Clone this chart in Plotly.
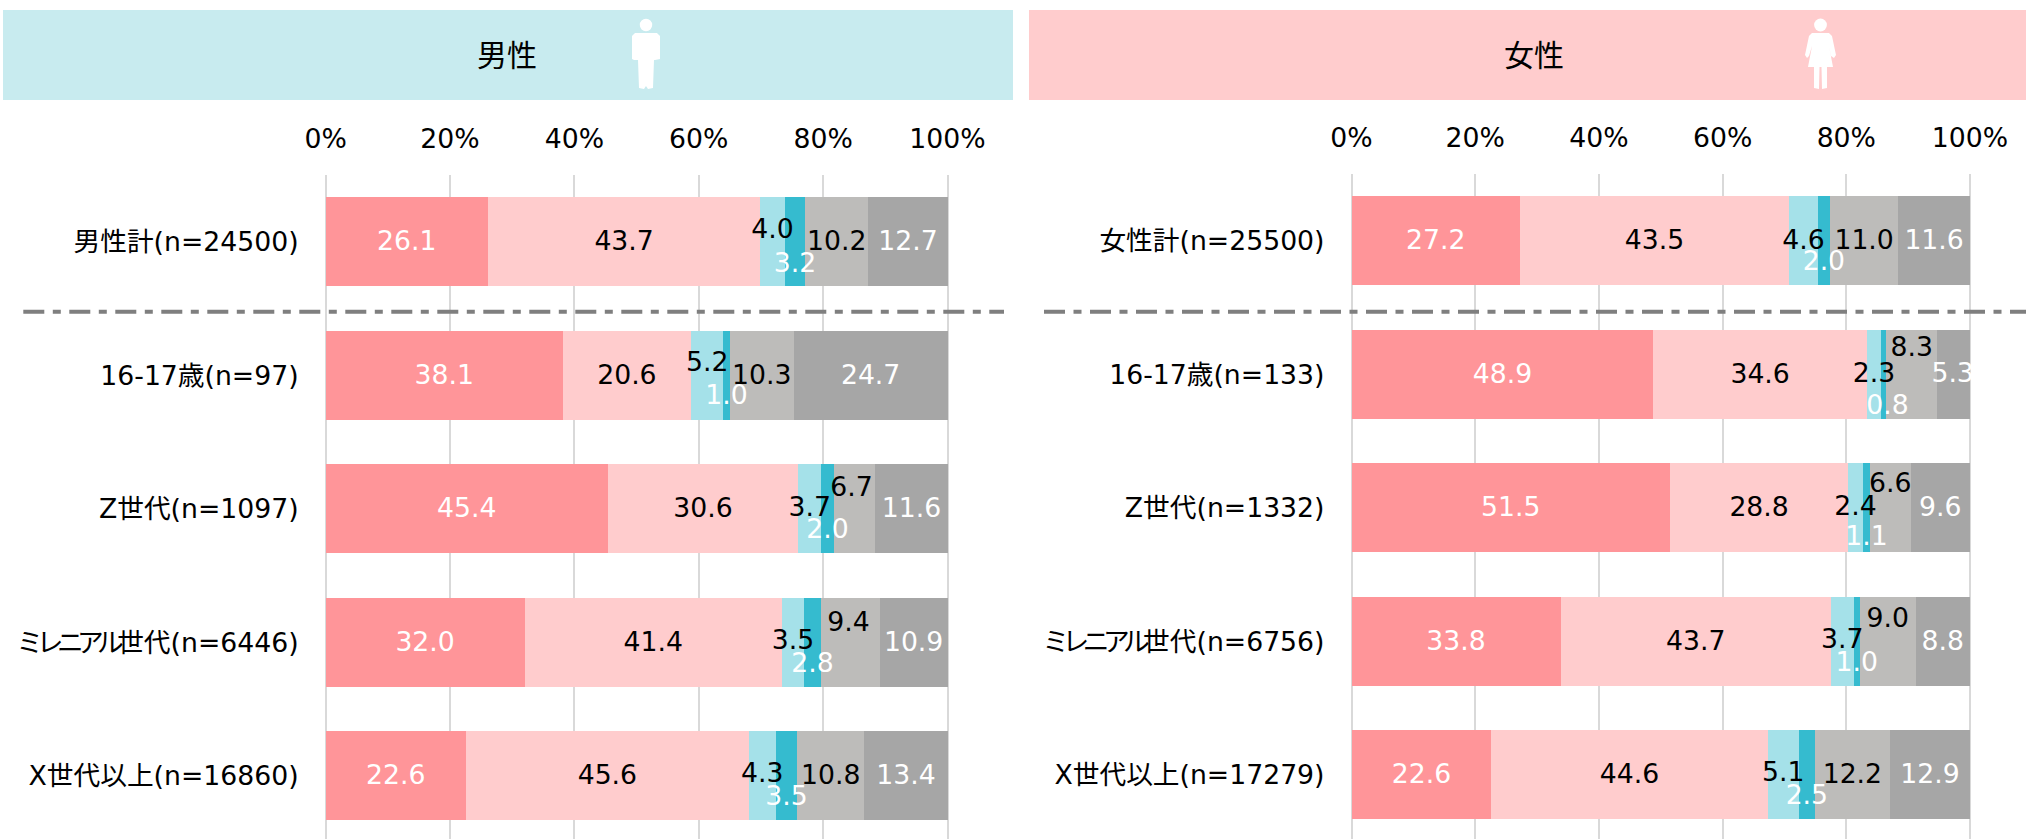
import plotly.graph_objects as go

W, H = 2026, 839
FONT = "DejaVu Sans, Noto Sans CJK JP, sans-serif"
TEXT_SIZE = 26.7

KANA = '<span style="letter-spacing:-6.5px">ミレニアル</span>'
male_categories = ["男性計(n=24500)", "16-17歳(n=97)", "Z世代(n=1097)", KANA + "世代(n=6446)", "X世代以上(n=16860)"]
female_categories = ["女性計(n=25500)", "16-17歳(n=133)", "Z世代(n=1332)", KANA + "世代(n=6756)", "X世代以上(n=17279)"]

male_s1 = [26.1, 38.1, 45.4, 32.0, 22.6]
male_s2 = [43.7, 20.6, 30.6, 41.4, 45.6]
male_s3 = [4.0, 5.2, 3.7, 3.5, 4.3]
male_s4 = [3.2, 1.0, 2.0, 2.8, 3.5]
male_s5 = [10.2, 10.3, 6.7, 9.4, 10.8]
male_s6 = [12.7, 24.7, 11.6, 10.9, 13.4]

female_s1 = [27.2, 48.9, 51.5, 33.8, 22.6]
female_s2 = [43.5, 34.6, 28.8, 43.7, 44.6]
female_s3 = [4.6, 2.3, 2.4, 3.7, 5.1]
female_s4 = [2.0, 0.8, 1.1, 1.0, 2.5]
female_s5 = [11.0, 8.3, 6.6, 9.0, 12.2]
female_s6 = [11.6, 5.3, 9.6, 8.8, 12.9]

tick_values = [0, 20, 40, 60, 80, 100]
tick_labels = ["0%", "20%", "40%", "60%", "80%", "100%"]

# styling: one entry per series
colors = ["#ff9599", "#ffcccd", "#a5e1e9", "#35bbcf", "#bdbcba", "#a6a6a6"]
label_colors = ["white", "black", "black", "white", "black", "white"]

# label nudges in pixels (rows x series), to keep tiny segments legible
male_dy = [[2, 2, -10, 24, 2, 2], [2, 2, -11, 22, 2, 2], [2, 2, 1, 23, -19, 2], [2, 2, 0, 23, -18, 2], [2, 2, 0, 23, 2, 2]]
male_dx = [[0] * 6, [0] * 6, [0, 0, 0, 0, -3, 0], [0, 0, 0, 0, -2, 0], [0] * 6]
female_dy = [[2, 2, 2, 23, 2, 2], [2, 2, 1, 33, -25, 1], [2, 2, 1, 31, -22, 2], [2, 2, 0, 23, -21, 2], [2, 2, 0, 23, 2, 2]]
female_dx = [[0] * 6, [0, 0, 0, 4, 0, -1], [0] * 6, [0] * 6, [0] * 6]

ROW_PX = 133.5
EDGE_PX = 2  # room past 0% and 100% so that the end gridlines are drawn
PANELS = [
    dict(cats=male_categories, series=[male_s1, male_s2, male_s3, male_s4, male_s5, male_s6],
         dx=male_dx, dy=male_dy, x0=325.6, x1=947.5, top=175, xa="x", ya="y"),
    dict(cats=female_categories, series=[female_s1, female_s2, female_s3, female_s4, female_s5, female_s6],
         dx=female_dx, dy=female_dy, x0=1351.5, x1=1970, top=174, xa="x2", ya="y2"),
]


def px(x):
    return x / W


def py(y):
    return 1 - y / H


def path(points):
    return "M" + " L".join(f"{px(a):.5f},{py(b):.5f}" for a, b in points) + " Z"


def circle(cx, cy, r):
    return dict(type="circle", xref="paper", yref="paper", x0=px(cx - r), x1=px(cx + r), y0=py(cy + r), y1=py(cy - r),
                fillcolor="white", line_width=0, layer="above")


fig = go.Figure()
for p in PANELS:
    rows = list(range(len(p["cats"])))
    for s, vals in enumerate(p["series"]):
        fig.add_trace(go.Bar(y=rows, x=vals, orientation="h", width=0.665, marker=dict(color=colors[s], line_width=0),
                             xaxis=p["xa"], yaxis=p["ya"], showlegend=False, hoverinfo="skip"))
    px_per_unit = (p["x1"] - p["x0"]) / 100
    for s, vals in enumerate(p["series"]):
        xs, ys = [], []
        for r in rows:
            total = sum(col[r] for col in p["series"])
            left = sum(col[r] for col in p["series"][:s])
            xs.append((left + vals[r] / 2) * 100 / total + p["dx"][r][s] / px_per_unit)
            ys.append(r + p["dy"][r][s] / ROW_PX)
        fig.add_trace(go.Scatter(x=xs, y=ys, mode="text", text=[f"{v:.1f}" for v in vals], textposition="middle center",
                                 textfont=dict(family=FONT, size=TEXT_SIZE, color=label_colors[s]), cliponaxis=True,
                                 xaxis=p["xa"], yaxis=p["ya"], showlegend=False, hoverinfo="skip"))

DASH = "21px,8.5px,8px,8.5px"
shapes = [
    dict(type="rect", xref="paper", yref="paper", x0=px(3), x1=px(1013), y0=py(100), y1=py(10), fillcolor="#c8ebef", line_width=0, layer="below"),
    dict(type="rect", xref="paper", yref="paper", x0=px(1029), x1=px(2026), y0=py(100), y1=py(10), fillcolor="#ffcccd", line_width=0, layer="below"),
    dict(type="line", xref="paper", yref="paper", x0=px(23.3), x1=px(1004), y0=py(311.7), y1=py(311.7), line=dict(color="#7f7f7f", width=4, dash=DASH)),
    dict(type="line", xref="paper", yref="paper", x0=px(1044), x1=px(2026), y0=py(311.7), y1=py(311.7), line=dict(color="#7f7f7f", width=4, dash=DASH)),
    # man pictogram
    circle(646, 25, 6.2),
    dict(type="path", xref="paper", yref="paper", fillcolor="white", line_width=0, layer="above",
         path=path([(635, 33), (657, 33), (660, 36), (660, 59), (655, 60), (654, 60), (653, 88), (648, 89), (646, 86), (644, 89), (639, 88), (638, 60), (634, 60), (632, 59), (632, 36)])),
    # woman pictogram
    circle(1820.5, 25, 6.4),
    dict(type="path", xref="paper", yref="paper", fillcolor="white", line_width=0, layer="above",
         path=path([(1812, 33), (1829, 33), (1832, 36), (1836, 55), (1834, 58), (1831, 56), (1829, 46), (1833, 67), (1827, 67), (1827, 88), (1822, 89), (1821.5, 67), (1819.5, 67), (1819, 89), (1814, 88), (1814, 67), (1808, 67), (1812, 46), (1809, 56), (1807, 58), (1805, 55), (1809, 36)])),
]

annotations = [
    dict(text="男性", xref="paper", yref="paper", x=px(507), y=py(56), showarrow=False,
         font=dict(family=FONT, size=30, color="black"), xanchor="center", yanchor="middle"),
    dict(text="女性", xref="paper", yref="paper", x=px(1534), y=py(56), showarrow=False,
         font=dict(family=FONT, size=30, color="black"), xanchor="center", yanchor="middle"),
]

layout = dict(width=W, height=H, margin=dict(l=0, r=0, t=0, b=0, autoexpand=False), barmode="stack", barnorm="percent",
              plot_bgcolor="white", paper_bgcolor="white", shapes=shapes, annotations=annotations, showlegend=False)

for p, xk, yk, xa_anchor, ya_anchor in zip(PANELS, ["xaxis", "xaxis2"], ["yaxis", "yaxis2"], ["y", "y2"], ["x", "x2"]):
    center = p["top"] + 66.7
    edge = EDGE_PX * 100 / (p["x1"] - p["x0"])
    layout[xk] = dict(domain=[px(p["x0"] - EDGE_PX), px(p["x1"] + EDGE_PX)], range=[-edge, 100 + edge], side="top", anchor=xa_anchor,
                      automargin=False, tickvals=tick_values, ticktext=tick_labels, showgrid=True, gridcolor="#d9d9d9", gridwidth=1.5,
                      zeroline=False, showline=False, ticks="", ticklabelstandoff=21,
                      tickfont=dict(family=FONT, size=TEXT_SIZE, color="black"))
    layout[yk] = dict(domain=[0, py(p["top"])], range=[(H - center) / ROW_PX, (p["top"] - center) / ROW_PX], anchor=ya_anchor,
                      automargin=False, tickvals=list(range(5)), ticktext=p["cats"], showgrid=False, zeroline=False, showline=False,
                      ticks="", ticklabelstandoff=24, tickfont=dict(family=FONT, size=TEXT_SIZE, color="black"))

fig.update_layout(**layout)
fig.write_html("out.html", config=dict(displayModeBar=False),
               post_script="document.body.style.margin='0';document.body.style.overflow='hidden';")
